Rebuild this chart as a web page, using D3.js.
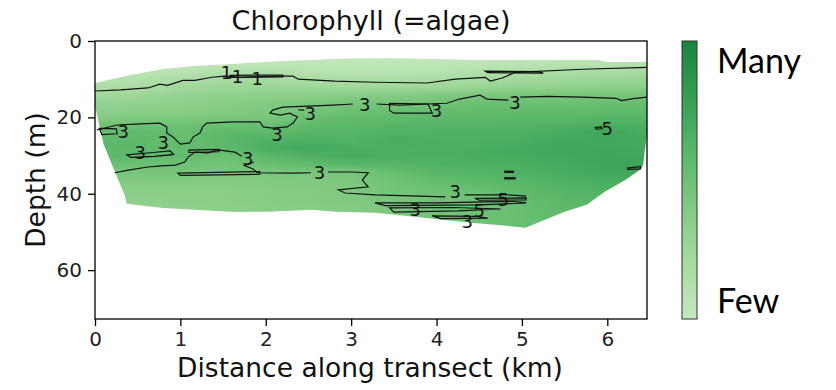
<!DOCTYPE html>
<html>
<head>
<meta charset="utf-8">
<script src="https://cdn.jsdelivr.net/npm/d3@7"></script>
<style>
  body { margin: 0; background: #fff; }
  svg { display: block; }
</style>
</head>
<body>
<svg id="chart" width="836" height="390"></svg>
<script>
// ---------------- DATA ----------------
const chartTitle = "Chlorophyll (=algae)";
const xLabel = "Distance along transect (km)";
const yLabel = "Depth (m)";
const xTicks = [0, 1, 2, 3, 4, 5, 6];
const yTicks = [0, 20, 40, 60];
const colorbarLabels = ["Many", "Few"];

// sampling grid (km along transect, m depth)
const distances = [0, 0.5, 1, 1.5, 2, 2.5, 3, 3.5, 4, 4.5, 5, 5.5, 6, 6.5];
const depths = [4, 6, 8, 10, 12, 14, 16, 18, 20, 22, 24, 26, 28, 30, 32, 34, 36, 38, 40, 42, 44, 46, 48, 50];
// chlorophyll value per depth row (columns = distances)
const chlorophyll = [
  [0.2,0.2,0.2,0.2,0.2,0.2,0.2,0.2,0.2,0.2,0.2,0.3,0.3,0.3],
  [0.3,0.3,0.3,0.4,0.4,0.3,0.3,0.3,0.3,0.4,0.5,0.6,0.7,0.8],
  [0.4,0.5,0.6,0.9,0.9,0.7,0.6,0.6,0.7,0.9,1.1,1.2,1.3,1.4],
  [0.7,0.8,1.1,1.4,1.4,1.2,1.1,1.1,1.2,1.4,1.6,1.7,1.8,1.9],
  [1.1,1.2,1.6,1.8,1.8,1.7,1.6,1.6,1.7,1.9,2.1,2.2,2.3,2.4],
  [1.6,1.7,2.0,2.2,2.3,2.4,2.5,2.6,2.8,3.0,3.1,3.1,3.2,3.2],
  [2.0,2.1,2.3,2.5,2.7,2.9,3.1,3.1,3.3,3.5,3.5,3.5,3.6,3.6],
  [2.3,2.4,2.5,2.7,2.9,3.2,3.5,3.6,3.7,3.8,3.8,3.8,3.9,3.9],
  [2.7,2.8,2.9,3.0,3.1,3.6,3.8,3.9,4.0,4.0,4.1,4.1,4.2,4.2],
  [3.3,3.5,3.5,3.6,3.6,3.9,4.1,4.2,4.3,4.3,4.4,4.5,4.7,4.5],
  [3.8,3.9,3.7,4.0,4.1,4.2,4.3,4.5,4.5,4.5,4.6,4.8,5.1,4.7],
  [4.0,4.0,3.7,4.1,4.5,4.6,4.4,4.8,4.6,4.6,4.7,5.0,5.0,4.8],
  [4.1,4.0,3.8,3.9,4.7,5.0,4.7,4.6,4.7,4.7,4.9,5.1,5.1,4.9],
  [4.0,3.9,3.8,3.5,4.1,4.5,4.8,4.7,4.6,4.8,4.8,5.0,5.2,5.0],
  [3.7,3.6,3.5,3.3,3.7,4.0,4.2,4.3,4.5,4.6,4.7,4.9,5.2,5.2],
  [3.2,3.2,3.2,3.0,3.2,3.2,3.3,3.8,4.2,4.4,4.6,4.8,5.1,5.1],
  [2.9,2.9,2.9,2.8,2.8,2.9,3.0,3.5,3.9,4.1,4.3,4.6,4.8,4.8],
  [2.6,2.6,2.6,2.6,2.7,2.8,2.9,3.3,3.6,3.8,4.1,4.4,4.6,4.6],
  [2.4,2.4,2.5,2.5,2.6,2.7,2.9,3.2,3.4,3.5,3.9,4.2,4.4,4.4],
  [2.3,2.3,2.4,2.5,2.6,2.7,2.8,3.1,3.4,3.5,3.7,4.1,4.2,4.2],
  [2.2,2.2,2.3,2.4,2.5,2.6,2.7,3.0,3.3,3.5,3.7,4.0,4.1,4.1],
  [2.1,2.1,2.2,2.3,2.4,2.5,2.6,3.0,3.3,3.5,3.7,3.9,4.0,4.0],
  [2.0,2.0,2.1,2.2,2.3,2.5,2.6,2.9,3.2,3.4,3.7,3.8,3.9,3.9],
  [2.0,2.0,2.1,2.2,2.3,2.5,2.6,2.9,3.2,3.4,3.7,3.8,3.9,3.9]
];

// outline of the sampled section [km, m]
const sectionOutline = [
  [0,11.0],[0.4,9.0],[0.8,7.3],[1.2,6.5],[1.6,6.0],[2.0,5.5],[2.5,5.0],[3.0,4.6],[3.5,4.5],
  [4.1,4.8],[4.5,5.0],[5.0,5.0],[5.9,5.0],[6.0,5.5],[6.47,5.5],
  [6.47,24],[6.44,28.5],[6.42,32.5],[6.38,33.8],[6.21,36.4],[5.97,39.5],[5.76,42.9],
  [5.5,44.7],[5.27,46.8],[5.04,48.9],
  [4.83,48.4],[4.4,47.6],[3.66,45.8],[3.28,45.0],[2.81,44.7],[2.54,44.2],[2.02,44.7],
  [1.64,44.8],[1.17,44.2],[0.8,43.7],[0.37,42.6],
  [0.35,40.5],[0.2,32.5],[0.1,27],[0,17]
];

// contour lines [km, m]
const contour1Main = [[0,13.1],[0.3,12.8],[0.62,12.3],[0.76,11.3],[0.85,11.6],[1.03,10.3],[1.17,10.3],[1.37,9.5],[1.52,9.2],[1.7,9.5],[2.0,9.3],[2.22,9.2],[2.32,9.2],[2.38,10.0],[2.81,10.5],[3.28,10.8],[3.89,11.0],[4.22,10.0],[4.57,9.5],[4.63,10.5],[4.77,9.7],[4.92,8.2],[5.71,7.4],[6.47,6.9]];
const contour1LoopA = [[1.58,9.0],[2.2,8.9],[2.2,9.4],[1.58,9.5]];
const contour1LoopB = [[4.57,7.9],[5.2,8.0],[5.25,8.4],[4.6,8.3]];
const contour3UpperA = [[0.02,23.3],[0.26,22.0],[0.53,21.7],[0.76,21.5],[0.84,22.5],[0.84,24.1],[0.91,25.1],[1.0,27.0],[1.11,26.7],[1.15,25.1],[1.23,24.1],[1.26,22.5],[1.31,21.5],[1.62,21.2],[1.93,21.2],[1.97,22.5],[2.08,22.8],[2.25,22.5],[2.32,21.5],[2.37,19.9],[2.28,18.9],[2.17,19.4],[2.05,18.9],[2.08,18.1],[2.2,17.3],[2.79,16.8],[3.02,16.5]];
const contour3UpperB = [[3.3,16.5],[3.57,16.8],[4.12,16.3],[4.27,15.2],[4.51,14.2],[4.59,15.2],[4.84,15.5]];
const contour3UpperC = [[4.98,14.7],[5.3,14.5],[5.71,14.7],[6.1,15.0],[6.17,15.6],[6.3,15.1],[6.47,14.7]];
const contour3LowerA = [[0.23,34.5],[0.39,33.8],[0.62,33.0],[0.78,32.7],[0.94,32.5],[1.05,31.7],[1.09,30.4],[1.17,29.1],[1.32,29.3],[1.44,28.5],[1.64,29.1],[1.72,30.2]];
const contour3LowerB = [[1.86,31.7],[1.75,32.6],[1.85,33.5],[1.9,34.5],[2.3,34.6],[2.53,34.5]];
const contour3LowerC = [[2.73,34.3],[3.01,34.3],[3.2,34.5],[3.13,36.4],[3.2,38.2],[2.85,39.0],[2.93,39.8],[3.28,40.3],[4.1,40.8]];
const contour3LowerD = [[4.33,40.3],[4.84,40.3],[5.05,40.6]];
const contour3LoopA = [[3.45,16.3],[3.9,16.5],[3.95,18.9],[3.5,18.9],[3.45,18.2]];
const contour3LoopB = [[2.38,18.0],[2.45,18.1]];
const contour3LoopC = [[0.97,34.6],[1.93,34.2],[1.93,34.9],[1.0,35.2]];
const contour3LoopD = [[3.28,42.4],[4.0,42.4],[4.9,42.0],[5.05,42.4],[4.5,42.9],[3.4,43.1]];
const contour3LoopE = [[3.45,43.7],[4.2,43.6],[4.75,44.0],[4.25,44.5],[3.5,44.8]];
const contour3LoopF = [[3.95,45.8],[4.45,45.9],[4.6,46.4],[4.05,46.5]];
const contour3LoopL = [[0.05,22.9],[0.25,23.0],[0.26,24.3],[0.08,24.5]];
const contour3LoopM = [[0.37,29.8],[0.68,29.2],[0.88,28.8],[0.92,29.7],[0.7,30.2],[0.42,30.5]];
const contour3LoopN = [[1.1,28.6],[1.45,28.4],[1.45,29.0],[1.1,29.2]];
const contour5LoopA = [[4.45,41.2],[5.05,41.1],[5.05,41.6],[4.5,41.7]];
const contour5LoopB = [[5.86,22.6],[5.93,22.5],[5.94,23.0],[5.87,23.1]];
const contour5LoopC = [[6.24,33.2],[6.39,32.9],[6.39,33.5],[6.24,33.6]];
const contour5LoopD = [[4.8,34.1],[4.9,34.1],[4.9,34.4],[4.8,34.4]];
const contour5LoopE = [[4.8,35.8],[4.92,35.8],[4.92,36.1],[4.8,36.1]];

const openContours = [contour1Main, contour3UpperA, contour3UpperB, contour3UpperC,
  contour3LowerA, contour3LowerB, contour3LowerC, contour3LowerD, contour3LoopB];
const closedContours = [contour1LoopA, contour1LoopB, contour3LoopA, contour3LoopC, contour3LoopD,
  contour3LoopE, contour3LoopF, contour3LoopL, contour3LoopM, contour3LoopN,
  contour5LoopA, contour5LoopB, contour5LoopC, contour5LoopD, contour5LoopE];

// contour labels [km, m, text]
const contourLabels = [
  [1.54,8.3,"1"],[1.67,9.2,"1"],[1.9,9.7,"1"],
  [3.16,16.5,"3"],[4.92,16.0,"3"],[2.52,18.9,"3"],[2.13,24.6,"3"],[4.0,18.1,"3"],
  [0.33,23.8,"3"],[0.53,29.3,"3"],[0.8,26.7,"3"],[1.79,30.9,"3"],[2.63,34.5,"3"],
  [4.22,39.3,"3"],[3.75,44.2,"3"],[4.36,47.2,"3"],
  [6.0,22.8,"5"],[4.5,44.3,"5"],[4.78,41.6,"5"]
];

const valueDomain = [0, 7];

// ---------------- LAYOUT ----------------
const svg = d3.select("#chart");
const plot = { left: 95, right: 647, top: 41, bottom: 319 };
const x = d3.scaleLinear().domain([0, 6.465]).range([plot.left, plot.right]);
const y = d3.scaleLinear().domain([0, 72.8]).range([plot.top, plot.bottom]);
const color = d3.scaleSequential(t => d3.interpolateGreens(0.25 + 0.53 * t)).domain(valueDomain);

const defs = svg.append("defs");
const line = d3.line().x(d => x(d[0])).y(d => y(d[1]));
const closedLine = d3.line().x(d => x(d[0])).y(d => y(d[1])).curve(d3.curveLinearClosed);

defs.append("clipPath").attr("id", "sectionClip")
  .append("path").attr("d", closedLine(sectionOutline));
defs.append("clipPath").attr("id", "plotClip")
  .append("rect").attr("x", plot.left).attr("y", plot.top)
  .attr("width", plot.right - plot.left).attr("height", plot.bottom - plot.top);

// heat field: grid drawn as a tiny image, smoothly scaled
const cnv = document.createElement("canvas");
cnv.width = distances.length; cnv.height = depths.length;
const ctx = cnv.getContext("2d");
const img = ctx.createImageData(cnv.width, cnv.height);
chlorophyll.forEach((row, j) => row.forEach((v, i) => {
  const c = d3.rgb(color(v));
  const k = (j * cnv.width + i) * 4;
  img.data[k] = c.r; img.data[k+1] = c.g; img.data[k+2] = c.b; img.data[k+3] = 255;
}));
ctx.putImageData(img, 0, 0);
const dStep = distances[1] - distances[0], zStep = depths[1] - depths[0];
const x0 = x(distances[0] - dStep / 2), x1 = x(distances[distances.length - 1] + dStep / 2);
const y0 = y(depths[0] - zStep / 2), y1 = y(depths[depths.length - 1] + zStep / 2);

const field = svg.append("g").attr("clip-path", "url(#plotClip)");
field.append("g").attr("clip-path", "url(#sectionClip)")
  .append("image")
  .attr("href", cnv.toDataURL())
  .attr("x", x0).attr("y", y0)
  .attr("width", x1 - x0).attr("height", y1 - y0)
  .attr("preserveAspectRatio", "none");

// contours
const cg = field.append("g").attr("fill", "none").attr("stroke", "#111").attr("stroke-width", 1.2);
cg.selectAll("path.open").data(openContours).join("path").attr("class", "open").attr("d", line);
cg.selectAll("path.closed").data(closedContours).join("path").attr("class", "closed").attr("d", closedLine);

field.append("g").selectAll("text").data(contourLabels).join("text")
  .attr("x", d => x(d[0])).attr("y", d => y(d[1]))
  .attr("text-anchor", "middle").attr("dominant-baseline", "central")
  .attr("font-family", "DejaVu Sans").attr("font-size", 18).attr("fill", "#111")
  .text(d => d[2]);

// frame
svg.append("rect").attr("x", plot.left).attr("y", plot.top)
  .attr("width", plot.right - plot.left).attr("height", plot.bottom - plot.top)
  .attr("fill", "none").attr("stroke", "#000").attr("stroke-width", 1.3);

// axes
const xAxis = svg.append("g").attr("transform", `translate(0,${plot.bottom})`)
  .call(d3.axisBottom(x).tickValues(xTicks).tickFormat(d3.format("d")).tickSize(7).tickPadding(6));
const yAxis = svg.append("g").attr("transform", `translate(${plot.left},0)`)
  .call(d3.axisLeft(y).tickValues(yTicks).tickFormat(d3.format("d")).tickSize(7).tickPadding(6));
[xAxis, yAxis].forEach(a => {
  a.select(".domain").remove();
  a.selectAll(".tick line").attr("stroke", "#000").attr("stroke-width", 1.3);
  a.selectAll(".tick text").attr("font-family", "DejaVu Sans").attr("font-size", 20).attr("fill", "#222");
});

// titles
svg.append("text").attr("x", (plot.left + plot.right) / 2).attr("y", 30)
  .attr("text-anchor", "middle").attr("font-family", "DejaVu Sans").attr("font-size", 27)
  .attr("fill", "#111").text(chartTitle);
svg.append("text").attr("x", (plot.left + plot.right) / 2 - 1).attr("y", 377)
  .attr("text-anchor", "middle").attr("font-family", "DejaVu Sans").attr("font-size", 26.5)
  .attr("fill", "#111").text(xLabel);
svg.append("text").attr("transform", `translate(45,${(plot.top + plot.bottom) / 2}) rotate(-90)`)
  .attr("text-anchor", "middle").attr("font-family", "DejaVu Sans").attr("font-size", 26.5)
  .attr("fill", "#111").text(yLabel);

// colorbar
const cb = { x: 682, w: 15 };
const cbScale = d3.scaleLinear().domain(valueDomain).range([plot.bottom, plot.top]);
const grad = defs.append("linearGradient").attr("id", "cbGrad")
  .attr("x1", 0).attr("y1", 1).attr("x2", 0).attr("y2", 0);
d3.range(0, 11).forEach(i => {
  const v = valueDomain[0] + (valueDomain[1] - valueDomain[0]) * i / 10;
  grad.append("stop").attr("offset", i / 10).attr("stop-color", color(v));
});
svg.append("rect").attr("x", cb.x).attr("y", cbScale(valueDomain[1]))
  .attr("width", cb.w).attr("height", cbScale(valueDomain[0]) - cbScale(valueDomain[1]))
  .attr("fill", "url(#cbGrad)").attr("stroke", "#333").attr("stroke-width", 1);

svg.append("text").attr("x", 717).attr("y", 73).attr("font-family", "Lato").attr("font-size", 34)
  .attr("fill", "#000").text(colorbarLabels[0]);
svg.append("text").attr("x", 717).attr("y", 313).attr("font-family", "Lato").attr("font-size", 34)
  .attr("fill", "#000").text(colorbarLabels[1]);
</script>
</body>
</html>
